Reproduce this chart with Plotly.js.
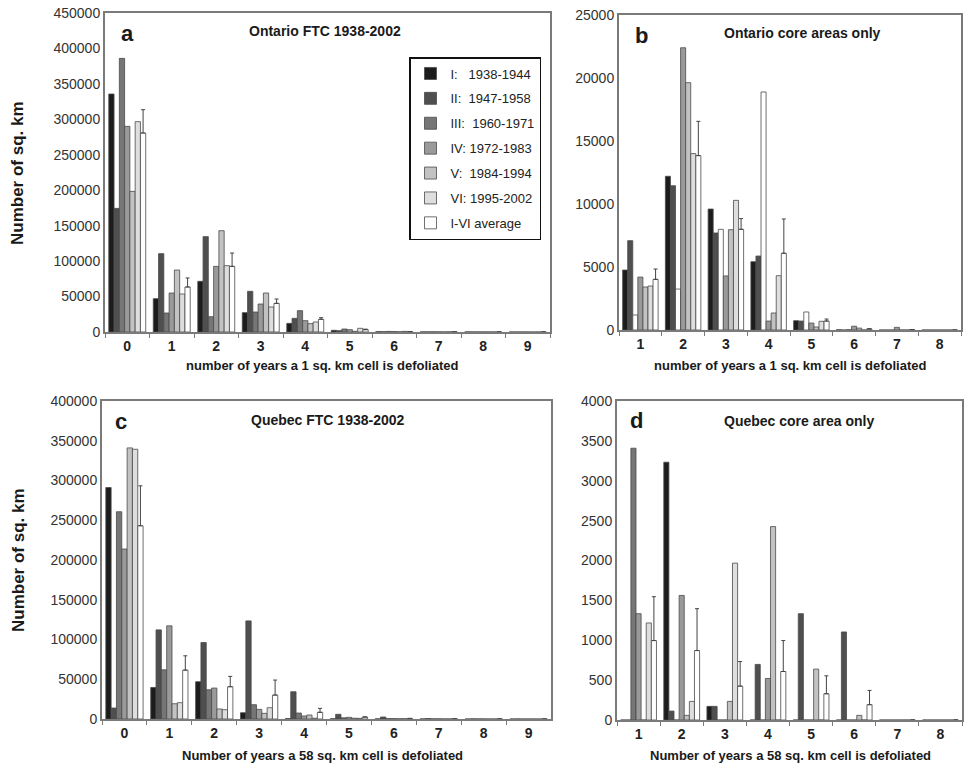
<!DOCTYPE html>
<html>
<head>
<meta charset="utf-8">
<script src="https://cdn.plot.ly/plotly-3.0.1.min.js"></script>
<style>html,body{margin:0;padding:0;background:#fff;}#chart{width:970px;height:769px;}</style>
</head>
<body>
<div id="chart"></div>
<script>
// ---------- data ----------
var seriesNames = ["I:\u00a0\u00a0\u00a01938-1944", "II:\u00a0\u00a01947-1958", "III:\u00a0\u00a01960-1971",
  "IV: 1972-1983", "V:\u00a0\u00a01984-1994", "VI: 1995-2002", "I-VI average"];

// Panel a: Ontario FTC 1938-2002 (1 sq. km cells)
var catsA = ["0","1","2","3","4","5","6","7","8","9"];
var ontI   = [335700, 47000, 71500, 27300, 12200, 2400, 500, 200, 100, 50];
var ontII  = [174400, 110500, 134500, 57400, 19300, 1900, 400, 200, 100, 50];
var ontIII = [386000, 26800, 21600, 28200, 30100, 4200, 800, 300, 100, 50];
var ontIV  = [290100, 55000, 92600, 39500, 16000, 3300, 600, 200, 100, 50];
var ontV   = [198400, 87400, 142900, 55000, 11800, 1000, 300, 100, 50, 0];
var ontVI  = [296700, 53600, 93600, 35300, 14100, 5200, 900, 300, 100, 50];
var ontAvg = [280700, 63500, 92600, 40400, 17900, 3300, 600, 200, 100, 50];
var ontErr = [32900, 12700, 18800, 6100, 2300, 700, null, null, null, null];

// Panel b: Ontario core areas only
var catsB = ["1","2","3","4","5","6","7","8"];
var ocI   = [4760, 12200, 9600, 5420, 740, 20, 0, 0];
var ocII  = [7090, 11450, 7700, 5870, 710, 0, 0, 0];
var ocIII = [1190, 3250, 7990, 18890, 1430, 30, 0, 0];
var ocIV  = [4200, 22400, 4290, 710, 550, 300, 210, 0];
var ocV   = [3410, 19630, 7960, 1350, 240, 150, 0, 0];
var ocVI  = [3490, 14000, 10290, 4310, 690, 0, 0, 0];
var ocAvg = [4020, 13840, 7990, 6090, 710, 90, 40, 0];
var ocErr = [820, 2720, 850, 2720, 160, null, null, null];

// Panel c: Quebec FTC 1938-2002 (58 sq. km cells)
var catsC = ["0","1","2","3","4","5","6","7","8","9"];
var qI   = [291200, 39700, 46900, 7900, 500, 300, 200, 100, 0, 0];
var qII  = [13800, 112100, 96200, 123400, 34300, 5900, 2500, 600, 200, 100];
var qIII = [260700, 61900, 36800, 18000, 7500, 1500, 500, 200, 100, 0];
var qIV  = [213800, 117200, 38900, 12100, 3800, 2100, 500, 200, 100, 0];
var qV   = [341000, 19200, 12600, 7100, 5000, 1000, 300, 100, 0, 0];
var qVI  = [339300, 20500, 11700, 14200, 1000, 800, 300, 100, 0, 0];
var qAvg = [243100, 61500, 40600, 30100, 8400, 2500, 700, 200, 100, 0];
var qErr = [50200, 18000, 13000, 18900, 5000, null, null, null, null, null];

// Panel d: Quebec core area only
var catsD = ["1","2","3","4","5","6","7","8"];
var qcI   = [0, 3233, 171, 0, 0, 0, 0, 0];
var qcII  = [0, 112, 171, 697, 1333, 1104, 0, 0];
var qcIII = [3408, 0, 0, 0, 0, 0, 0, 0];
var qcIV  = [1333, 1562, 0, 521, 0, 0, 0, 0];
var qcV   = [0, 58, 233, 2425, 638, 58, 0, 0];
var qcVI  = [1217, 233, 1967, 0, 0, 0, 0, 0];
var qcAvg = [996, 871, 425, 608, 329, 192, 0, 0];
var qcErr = [550, 525, 308, 388, 225, 179, null, null];

// ---------- styles ----------
var colorsStd = ["#1c1c1c", "#4f4f4f", "#767676", "#9a9a9a", "#c2c2c2", "#dedede", "#ffffff"];
var colorsB   = ["#1c1c1c", "#4f4f4f", "#ffffff", "#9a9a9a", "#c2c2c2", "#dedede", "#ffffff"];
var FONT = "Liberation Sans, Arial, Helvetica, sans-serif";

function panelTraces(cats, series, err, colors, xa, ya, legend) {
  var out = [];
  for (var i = 0; i < series.length; i++) {
    var t = {
      type: "bar", x: cats, y: series[i], name: seriesNames[i],
      xaxis: xa, yaxis: ya, showlegend: legend, legendgroup: "g" + i,
      marker: {color: colors[i], line: {color: "#4a4a4a", width: 0.8}},
      hoverinfo: "x+y+name"
    };
    if (i === series.length - 1) {
      var minus = err.map(function(){ return 0; });
      t.error_y = {type: "data", symmetric: false, array: err, arrayminus: minus,
                   color: "#444", thickness: 1, width: 2};
    }
    out.push(t);
  }
  return out;
}

var data = []
  .concat(panelTraces(catsA, [ontI, ontII, ontIII, ontIV, ontV, ontVI, ontAvg], ontErr, colorsStd, "x", "y", true))
  .concat(panelTraces(catsB, [ocI, ocII, ocIII, ocIV, ocV, ocVI, ocAvg], ocErr, colorsB, "x2", "y2", false))
  .concat(panelTraces(catsC, [qI, qII, qIII, qIV, qV, qVI, qAvg], qErr, colorsStd, "x3", "y3", false))
  .concat(panelTraces(catsD, [qcI, qcII, qcIII, qcIV, qcV, qcVI, qcAvg], qcErr, colorsStd, "x4", "y4", false));

var W = 970, H = 769;
function dx(a, b) { return [a / W, b / W]; }
function dy(top, bottom) { return [(H - bottom) / H, (H - top) / H]; }

function xax(domain, anchor) {
  return {domain: domain, anchor: anchor, type: "category",
    showline: true, mirror: true, linecolor: "#7a7a7a", linewidth: 2,
    ticks: "outside", tickson: "boundaries", ticklen: 4, tickcolor: "#7a7a7a",
    showgrid: false, zeroline: false, fixedrange: true,
    tickfont: {family: FONT, size: 14, color: "#222", weight: "bold"}};
}
function yax(domain, anchor, range, dtick) {
  return {domain: domain, anchor: anchor, range: range, dtick: dtick, tick0: 0,
    showline: true, mirror: true, linecolor: "#7a7a7a", linewidth: 2,
    ticks: "", showgrid: false, zeroline: false, tickformat: "d", fixedrange: true,
    tickfont: {family: FONT, size: 14, color: "#333"}};
}

function ann(text, x, y, size, extra) {
  var a = {text: text, x: x / W, y: (H - y) / H, xref: "paper", yref: "paper",
    showarrow: false, xanchor: "center", yanchor: "middle",
    font: {family: FONT, size: size, color: "#1a1a1a", weight: "bold"}};
  for (var k in extra) a[k] = extra[k];
  return a;
}

var layout = {
  width: W, height: H,
  margin: {l: 0, r: 0, t: 0, b: 0},
  paper_bgcolor: "#fff", plot_bgcolor: "#fff",
  barmode: "group", bargap: 0.17, bargroupgap: 0,
  font: {family: FONT, color: "#222"},
  xaxis: xax(dx(105, 550), "y"),
  yaxis: yax(dy(13, 332), "x", [0, 450000], 50000),
  xaxis2: xax(dx(619, 961), "y2"),
  yaxis2: yax(dy(15, 330), "x2", [0, 25000], 5000),
  xaxis3: xax(dx(102, 551), "y3"),
  yaxis3: yax(dy(401, 719), "x3", [0, 400000], 50000),
  xaxis4: xax(dx(617, 962), "y4"),
  yaxis4: yax(dy(401, 720), "x4", [0, 4000], 500),
  legend: {x: 541 / W, y: (H - 57) / H, xanchor: "right", yanchor: "top",
    bgcolor: "#fff", bordercolor: "#111", borderwidth: 1.5,
    font: {family: FONT, size: 13, color: "#222"},
    traceorder: "grouped", tracegroupgap: 5},
  annotations: [
    ann("a", 127, 33, 22, {}),
    ann("Ontario FTC 1938-2002", 325, 31, 14, {}),
    ann("b", 641, 35, 22, {}),
    ann("Ontario core areas only", 802, 33, 14, {}),
    ann("c", 121, 421, 22, {}),
    ann("Quebec FTC 1938-2002", 328, 420, 14, {}),
    ann("d", 636, 420, 22, {}),
    ann("Quebec core area only", 799, 421, 14, {}),
    ann("number of years a 1 sq. km cell is defoliated", 322, 365, 13, {}),
    ann("number of years a 1 sq. km cell is defoliated", 790, 365, 13, {}),
    ann("Number of years a 58 sq. km cell is defoliated", 322, 755, 13, {}),
    ann("Number of years a 58 sq. km cell is defoliated", 790, 755, 13, {}),
    ann("Number of sq. km", 18, 173, 17, {textangle: -90}),
    ann("Number of sq. km", 18, 560, 17, {textangle: -90})
  ]
};

Plotly.newPlot("chart", data, layout, {displayModeBar: false, staticPlot: true});
</script>
</body>
</html>
